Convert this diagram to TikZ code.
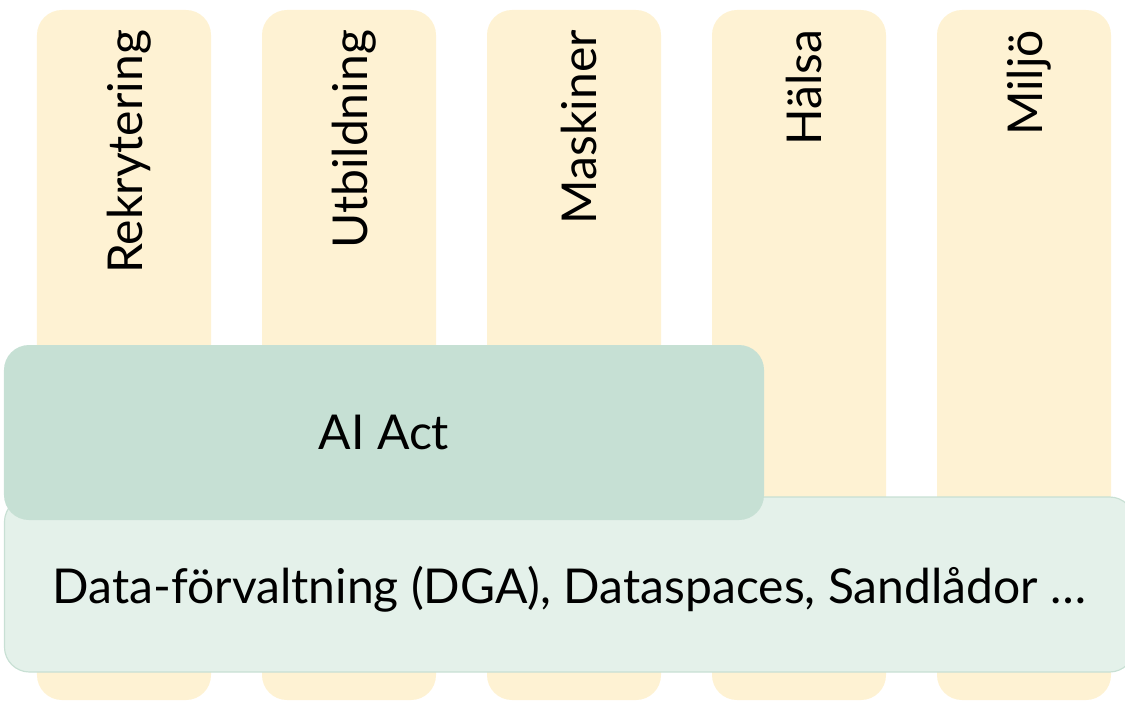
\documentclass[tikz,border=0pt]{standalone}
\usepackage{fontspec}
\setmainfont{Lato}
\usetikzlibrary{positioning,calc}

\definecolor{pillar}{HTML}{FEF2D3}
\definecolor{actgreen}{HTML}{C6E0D4}
\definecolor{datagreen}{HTML}{E4F1EA}
\definecolor{dataedge}{HTML}{C8E0D4}

\begin{document}
\begin{tikzpicture}[
  x=0.03cm, y=-0.03cm,
  every node/.style={font=\fontsize{41}{49}\selectfont, text=black},
  pillar/.style={fill=pillar, draw=none, rounded corners=0.75cm,
    minimum width=5.22cm, minimum height=20.7cm, inner sep=0pt},
  pillarlabel/.style={rotate=90, anchor=east, inner sep=0pt},
  layer/.style={rounded corners=0.75cm, inner sep=0pt, minimum height=5.25cm},
]

%% ── Page frame (1125 x 701 px) ───────────────────────────────────────────────
\clip (0,0) rectangle (1125,701);

%% ════════════════════════════════════════════════════════════════════════════
%% PILLARS — one per sector
%% ════════════════════════════════════════════════════════════════════════════
\foreach \i/\lbl in {1/Rekrytering, 2/Utbildning, 3/Maskiner, 4/Hälsa, 5/Miljö}{
  \node[pillar] (col\i) at ({124+225*(\i-1)}, 355) {};
  \node[pillarlabel] (lbl\i) at ($(col\i.north)+(5,20)$) {\lbl};
}

%% ════════════════════════════════════════════════════════════════════════════
%% CROSS-CUTTING LAYERS
%% ════════════════════════════════════════════════════════════════════════════

%% Data layer (runs past the right edge)
\node[layer, fill=datagreen, draw=dataedge, line width=1pt,
      minimum width=33.9cm] (data) at (569.5, 584.5)
  {\raisebox{-0.13cm}[\height][\depth]{Data-förvaltning (DGA), Dataspaces, Sandlådor \dots}};

%% AI Act on top
\node[layer, fill=actgreen, draw=none, minimum width=22.8cm] (aiact)
  at (384, 432.5) {AI Act};

\end{tikzpicture}
\end{document}
